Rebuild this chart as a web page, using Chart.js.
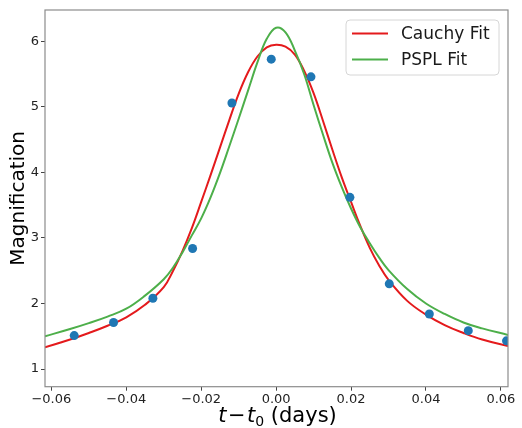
<!DOCTYPE html>
<html>
<head>
<meta charset="utf-8">
<script src="https://cdn.jsdelivr.net/npm/chart.js@4/dist/chart.umd.min.js"></script>
<style>
  html, body { margin: 0; padding: 0; background: #fff; }
  #wrap { width: 522px; height: 428px; }
</style>
</head>
<body>
<div id="wrap"><canvas id="lensChart"></canvas></div>
<script>
// observed magnification points
const obsT   = [-0.0539, -0.0434, -0.0329, -0.0223, -0.0118, -0.0013, 0.0093, 0.0197, 0.0302, 0.0409, 0.0513, 0.0615];
const obsMag = [1.51, 1.71, 2.08, 2.84, 5.06, 5.73, 5.46, 3.62, 2.30, 1.84, 1.585, 1.43];

// fitted curves
const fitT = [-0.0617, -0.055, -0.05, -0.045, -0.04, -0.035, -0.03, -0.0275, -0.025, -0.0225, -0.02, -0.0175,
              -0.015, -0.0125, -0.01, -0.0075, -0.005, -0.0025, 0, 0.0025, 0.005, 0.0075, 0.01, 0.0125,
              0.015, 0.0175, 0.02, 0.0225, 0.025, 0.0275, 0.03, 0.035, 0.04, 0.045, 0.05, 0.055, 0.0619];
const cauchyMag = [1.33, 1.45, 1.55, 1.66, 1.79, 1.98, 2.25, 2.50, 2.80, 3.15, 3.55, 3.96,
                   4.38, 4.80, 5.20, 5.53, 5.77, 5.91, 5.95, 5.92, 5.80, 5.55, 5.21, 4.79,
                   4.35, 3.93, 3.55, 3.18, 2.85, 2.58, 2.36, 2.04, 1.83, 1.67, 1.55, 1.45, 1.35];
const psplMag = [1.50, 1.61, 1.70, 1.80, 1.92, 2.12, 2.37, 2.55, 2.78, 3.04, 3.30, 3.62,
                 3.99, 4.40, 4.82, 5.25, 5.68, 6.04, 6.21, 6.14, 5.86, 5.50, 5.03, 4.58,
                 4.15, 3.78, 3.45, 3.16, 2.92, 2.70, 2.51, 2.22, 2.00, 1.84, 1.71, 1.62, 1.52];

const xTicks = [-0.06, -0.04, -0.02, 0, 0.02, 0.04, 0.06];
const yTicks = [1, 2, 3, 4, 5, 6];

const RED = '#e41a1c';
const GREEN = '#4daf4a';
const BLUE = '#1f77b4';
const FONT = "'DejaVu Sans', sans-serif";

function pairs(xs, ys) {
    return xs.map((x, i) => ({ x: x, y: ys[i] }));
}

// spine box, legend and axis titles
const decorations = {
    id: 'decorations',
    afterDatasetsDraw(chart) {
        const ctx = chart.ctx;
        const a = chart.chartArea;
        ctx.save();
        ctx.strokeStyle = '#8c8c8c';
        ctx.lineWidth = 1.2;
        ctx.strokeRect(a.left, a.top, a.right - a.left, a.bottom - a.top);

        // legend
        const bx = 346, by = 20, bw = 153, bh = 55;
        ctx.beginPath();
        ctx.roundRect(bx, by, bw, bh, 4);
        ctx.fillStyle = 'rgba(255,255,255,0.85)';
        ctx.fill();
        ctx.strokeStyle = '#d6d6d6';
        ctx.lineWidth = 1;
        ctx.stroke();
        const items = chart.data.datasets.filter(d => d.showLine);
        items.forEach((d, i) => {
            const y = by + 13.5 + i * 26;
            ctx.strokeStyle = d.borderColor;
            ctx.lineWidth = 2;
            ctx.beginPath();
            ctx.moveTo(352, y);
            ctx.lineTo(388, y);
            ctx.stroke();
            ctx.fillStyle = '#1a1a1a';
            ctx.font = '17px ' + FONT;
            ctx.textBaseline = 'middle';
            ctx.textAlign = 'left';
            ctx.fillText(d.label, 401, y + 1);
        });

        // y title
        ctx.fillStyle = '#000';
        ctx.save();
        ctx.translate(18.5, (a.top + a.bottom) / 2);
        ctx.rotate(-Math.PI / 2);
        ctx.font = '20px ' + FONT;
        ctx.textAlign = 'center';
        ctx.textBaseline = 'middle';
        ctx.fillText('Magnification', 0, 0);
        ctx.restore();

        // x title: t − t0 (days)
        const parts = [
            { s: 't', f: 'italic 21px ' + FONT, dy: 0, gap: 1.5 },
            { s: '\u2212', f: '21px ' + FONT, dy: 0, gap: 1.5 },
            { s: 't', f: 'italic 21px ' + FONT, dy: 0, gap: 0 },
            { s: '0', f: '14px ' + FONT, dy: 4, gap: 0 },
            { s: ' (days)', f: '21px ' + FONT, dy: 0, gap: 0 }
        ];
        let total = 0;
        parts.forEach(p => { ctx.font = p.f; p.w = ctx.measureText(p.s).width + p.gap; total += p.w; });
        let x = 277.5 - total / 2;
        ctx.textAlign = 'left';
        ctx.textBaseline = 'alphabetic';
        parts.forEach(p => {
            ctx.font = p.f;
            ctx.fillText(p.s, x, 422 + p.dy);
            x += p.w;
        });
        ctx.restore();
    }
};

new Chart(document.getElementById('lensChart'), {
    type: 'scatter',
    data: {
        datasets: [
            {
                label: 'Cauchy Fit',
                data: pairs(fitT, cauchyMag),
                showLine: true,
                borderColor: RED,
                backgroundColor: RED,
                borderWidth: 2,
                pointRadius: 0,
                tension: 0.4,
                order: 2
            },
            {
                label: 'PSPL Fit',
                data: pairs(fitT, psplMag),
                showLine: true,
                borderColor: GREEN,
                backgroundColor: GREEN,
                borderWidth: 2,
                pointRadius: 0,
                tension: 0.4,
                order: 1
            },
            {
                label: 'Data',
                data: pairs(obsT, obsMag),
                showLine: false,
                backgroundColor: BLUE,
                borderColor: BLUE,
                pointRadius: 4.5,
                pointBorderWidth: 0,
                clip: 0,
                order: 0
            }
        ]
    },
    options: {
        responsive: true,
        maintainAspectRatio: false,
        animation: false,
        layout: { padding: { top: 10, right: 14, left: 0, bottom: 0 } },
        plugins: {
            legend: { display: false },
            tooltip: { enabled: false }
        },
        scales: {
            x: {
                type: 'linear',
                min: -0.0617,
                max: 0.0619,
                afterBuildTicks: s => { s.ticks = xTicks.map(v => ({ value: v })); },
                afterFit: s => { s.height = 41.3; },
                border: { display: false },
                grid: { drawOnChartArea: false, tickLength: 4, tickColor: '#444', tickWidth: 1 },
                ticks: {
                    color: '#222',
                    padding: 1,
                    maxRotation: 0,
                    font: { family: FONT, size: 13 },
                    callback: v => v.toFixed(2).replace('-', '\u2212')
                }
            },
            y: {
                type: 'linear',
                min: 0.73,
                max: 6.48,
                afterBuildTicks: s => { s.ticks = yTicks.map(v => ({ value: v })); },
                afterFit: s => { s.width = 45; },
                border: { display: false },
                grid: { drawOnChartArea: false, tickLength: 4, tickColor: '#444', tickWidth: 1 },
                ticks: {
                    color: '#222',
                    padding: 2,
                    font: { family: FONT, size: 13 },
                    callback: v => String(v)
                }
            }
        }
    },
    plugins: [decorations]
});
</script>
</body>
</html>
